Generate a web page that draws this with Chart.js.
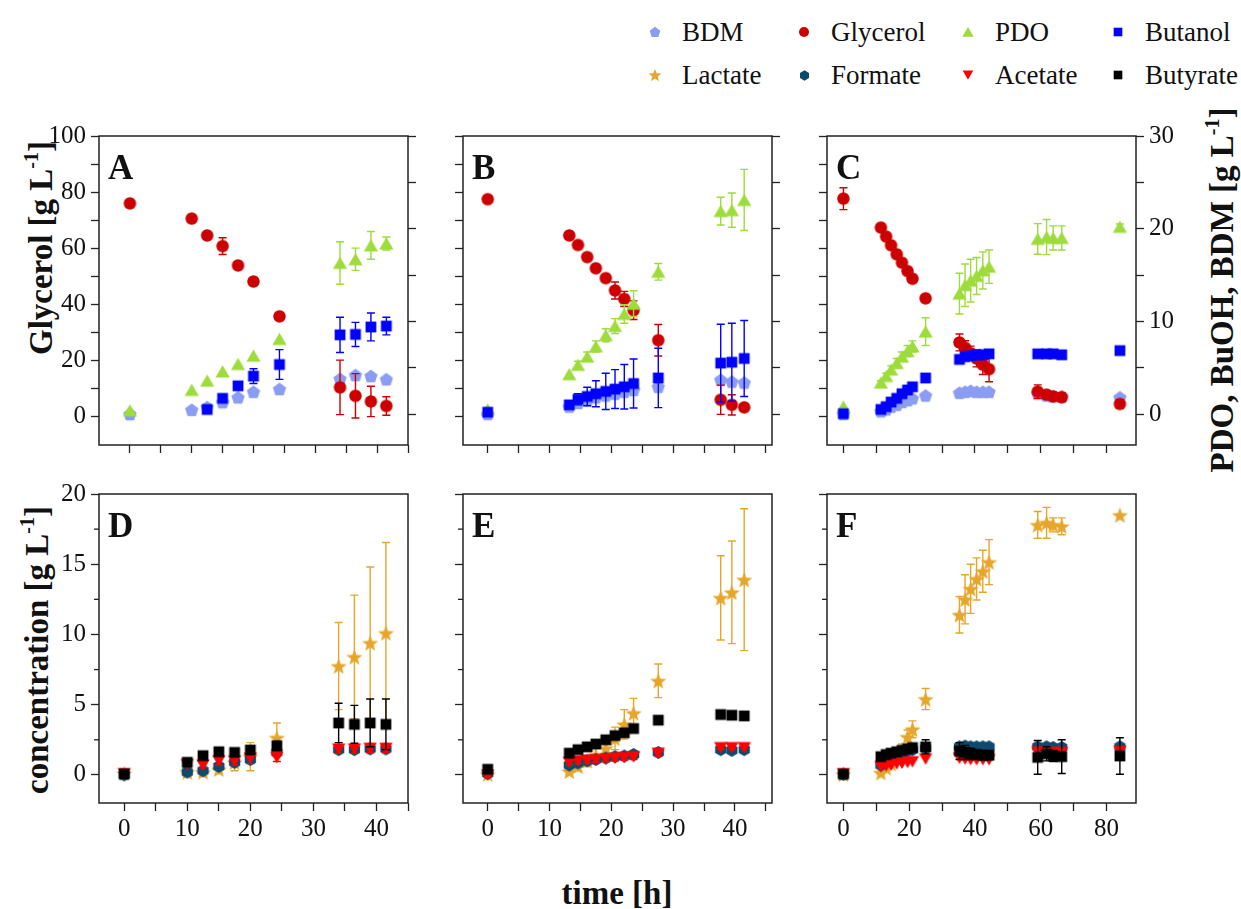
<!DOCTYPE html>
<html>
<head>
<meta charset="utf-8">
<script src="https://cdn.jsdelivr.net/npm/chart.js@4.4.1/dist/chart.umd.min.js"></script>
<style>
    body { margin: 0; width: 1241px; height: 909px; position: relative; overflow: hidden; background: #fff;
           font-family: "Liberation Serif", "Times New Roman", serif; color: #111; }
    canvas.panel { position: absolute; }
    .letter { position: absolute; font-weight: bold; font-size: 35px; line-height: 1; }
    .title { position: absolute; font-weight: bold; font-size: 33px; white-space: nowrap; line-height: 1; }
    .title sup { font-size: 20px; position: relative; top: -2px; }
    .rot { transform: translate(-50%, -50%) rotate(-90deg); }
    .legend-item { position: absolute; height: 30px; line-height: 30px; font-size: 27px; white-space: nowrap; }
    .legend-item canvas { position: absolute; }
</style>
</head>
<body>

<div class="title rot" style="left:40px; top:248px;">Glycerol [g L<sup>-1</sup>]</div>
<div class="title rot" style="left:36px; top:650px;">concentration [g L<sup>-1</sup>]</div>
<div class="title rot" style="left:1221px; top:290px;">PDO, BuOH, BDM [g L<sup>-1</sup>]</div>
<div class="title" style="left:617px; top:893px; transform: translate(-50%, -50%);">time [h]</div>

<div id="legend"></div>

<script>
// sampling times [h]
const timeA = [0, 10, 12.5, 15, 17.5, 20, 24.2, 34, 36.5, 39, 41.5];
const timeB = [0, 13.2, 14.6, 16.1, 17.5, 19.1, 20.6, 22.1, 23.6, 27.6, 37.7, 39.5, 41.5];
const timeC = [0, 11.4, 13.0, 14.5, 16.2, 17.8, 19.5, 21.0, 25.0, 35.3, 37.0, 38.7, 40.5, 42.4, 44.3, 59.1, 61.8, 63.8, 66.4, 84.1];

// panel A
const glycerolA = [76, 70.6, 64.6, 60.8, 53.9, 48.2, 35.8, 10.5, 7.5, 5.5, 3.9];
const glycerolAErr = [0, 0, 0, 3, 0, 0, 0, 9.7, 7.9, 5.4, 3.3];
const pdoA = [0.4, 2.6, 3.6, 4.6, 5.4, 6.3, 8.1, 16.3, 16.7, 18.2, 18.4];
const pdoAErr = [0, 0, 0, 0, 0, 0, 0, 2.3, 1.2, 1.5, 0.7];
const butanolA = [null, null, 0.5, 1.7, 3.05, 4.1, 5.35, 8.55, 8.6, 9.4, 9.5];
const butanolAErr = [0, 0, 0.2, 0.3, 0.3, 0.8, 1.6, 1.9, 1.3, 1.5, 0.95];
const bdmA = [0, 0.46, 0.74, 1.28, 1.8, 2.4, 2.7, 3.8, 4.2, 4.1, 3.75];

// panel B
const glycerolB = [77.5, 64.6, 61.2, 56.9, 52.9, 49.4, 45.0, 42.0, 38.0, 27.3, 6.1, 4.3, 3.4];
const glycerolBErr = [0, 0, 0, 0, 0, 0, 3, 2.7, 3.3, 5.6, 5.2, 3.6, 0];
const pdoB = [0.5, 4.3, 5.3, 6.2, 7.3, 8.5, 9.5, 10.8, 11.9, 15.35, 21.9, 22.0, 23.1];
const pdoBErr = [0, 0, 0.4, 0.5, 0.6, 0.7, 0.8, 1.0, 1.4, 0.9, 1.5, 1.85, 3.3];
const butanolB = [0.2, 1.0, 1.6, 1.9, 2.2, 2.45, 2.7, 2.95, 3.3, 3.9, 5.5, 5.6, 6.0];
const butanolBErr = [0.2, 0.3, 0.6, 1.0, 1.4, 1.95, 2.1, 2.4, 2.65, 3.2, 4.2, 4.2, 4.1];
const bdmB = [0, 0.8, 1.2, 1.5, 1.8, 2.0, 2.2, 2.4, 2.6, 2.95, 3.7, 3.5, 3.4];

// panel C
const glycerolC = [77.7, 67.4, 64.2, 61.1, 57.9, 54.9, 51.9, 49.2, 42.2, 26.5, 24.6, 22.7, 20.8, 18.6, 17.0, 9.0, 7.9, 7.3, 7.0, 4.6];
const glycerolCErr = [3.9, 0, 0, 0, 0, 0, 0, 0, 0, 3, 2.5, 2.5, 3, 3.5, 4.5, 2.4, 1.5, 1.5, 1.5, 1.5];
const pdoC = [0.8, 3.4, 4.1, 4.8, 5.5, 6.2, 6.8, 7.3, 8.9, 13.0, 13.9, 14.4, 14.9, 15.5, 15.9, 18.9, 19.1, 19.0, 19.0, 20.2];
const pdoCErr = [0, 0.2, 0.3, 0.4, 0.5, 0.5, 0.6, 0.6, 1.5, 2.2, 2.3, 2.3, 2.0, 2.0, 1.8, 1.65, 1.9, 1.3, 1.3, 0.3];
const butanolC = [0.05, 0.5, 0.8, 1.3, 1.7, 2.2, 2.6, 2.95, 3.9, 5.9, 6.2, 6.3, 6.4, 6.4, 6.5, 6.5, 6.5, 6.5, 6.4, 6.85];
const butanolCErr = [0, 0, 0, 0, 0, 0, 0, 0, 0, 0.3, 0.3, 0.3, 0.3, 0.3, 0.3, 0.2, 0.2, 0.2, 0.2, 0];
const bdmC = [0, 0.3, 0.5, 0.8, 1.0, 1.3, 1.5, 1.7, 2.0, 2.3, 2.4, 2.5, 2.4, 2.4, 2.4, 2.2, 2.0, 1.9, 1.9, 1.8];

// panel D
const lactateD = [0.1, 0.2, 0.2, 0.4, 0.9, 1.3, 2.65, 7.75, 8.4, 9.4, 10.1];
const lactateDErr = [0.2, 0.2, 0.3, 0.3, 0.6, 1.0, 1.05, 3.1, 4.4, 5.4, 6.45];
const formateD = [0, 0.2, 0.3, 0.6, 0.9, 1.1, 1.6, 1.8, 1.8, 1.85, 1.85];
const acetateD = [0.1, 0.75, 0.7, 1.0, 1.0, 1.2, 1.25, 1.85, 1.85, 1.9, 1.9];
const acetateDErr = [0.1, 0.2, 0.2, 0.3, 0.3, 0.4, 0.3, 0.3, 0.3, 0.3, 0.3];
const butyrateD = [0.07, 0.9, 1.37, 1.65, 1.6, 1.77, 2.08, 3.7, 3.6, 3.7, 3.6];
const butyrateDErr = [0, 0, 0, 0, 0, 0.2, 0.3, 1.4, 1.35, 1.7, 1.8];

// panel E
const lactateE = [0.05, 0.25, 0.6, 1.0, 1.4, 1.9, 2.6, 3.6, 4.4, 6.7, 12.6, 13.0, 13.9];
const lactateEErr = [0, 0.2, 0.3, 0.4, 0.5, 0.6, 0.8, 1.05, 1.05, 1.2, 3.0, 3.65, 5.05];
const formateE = [0.1, 0.7, 0.85, 1.0, 1.1, 1.2, 1.3, 1.35, 1.45, 1.6, 1.8, 1.75, 1.8];
const acetateE = [0, 0.9, 1.0, 1.05, 1.1, 1.15, 1.2, 1.25, 1.3, 1.55, 1.95, 1.95, 1.95];
const acetateEErr = [0.1, 0.2, 0.2, 0.2, 0.2, 0.2, 0.2, 0.2, 0.2, 0.2, 0.1, 0.1, 0.1];
const butyrateE = [0.4, 1.55, 1.8, 2.0, 2.2, 2.5, 2.8, 3.0, 3.3, 3.9, 4.3, 4.25, 4.2];

// panel F
const lactateF = [0.05, 0.15, 0.5, 0.8, 1.2, 1.8, 2.7, 3.25, 5.4, 11.4, 12.5, 13.25, 13.95, 14.5, 15.15, 17.8, 17.95, 17.8, 17.7, 18.5];
const lactateFErr = [0, 0.1, 0.2, 0.3, 0.3, 0.4, 0.5, 0.6, 0.75, 1.3, 1.75, 1.75, 1.5, 1.5, 1.6, 0.95, 1.1, 0.5, 0.6, 0];
const formateF = [0.05, 0.7, 1.0, 1.2, 1.4, 1.6, 1.7, 1.8, 1.9, 2.0, 2.05, 2.0, 2.0, 2.0, 2.0, 2.0, 2.0, 1.95, 1.95, 2.0];
const acetateF = [0.1, 0.6, 0.65, 0.7, 0.8, 0.85, 0.9, 0.95, 1.15, 1.2, 1.15, 1.1, 1.1, 1.1, 1.1, 1.65, 1.6, 1.6, 1.6, 1.7];
const butyrateF = [0.05, 1.3, 1.45, 1.55, 1.65, 1.75, 1.85, 1.95, 2.0, 1.7, 1.6, 1.5, 1.45, 1.4, 1.4, 1.25, 1.5, 1.35, 1.3, 1.35];
const butyrateFErr = [0, 0.2, 0.2, 0.2, 0.2, 0.2, 0.2, 0.2, 0.5, 0.6, 0.5, 0.4, 0.3, 0.3, 0.3, 1.2, 0.5, 0.4, 1.2, 1.3];

// axis ticks
const xTicksShort = [0, 5, 10, 15, 20, 25, 30, 35, 40, 45];
const xLabelsShort = [0, 10, 20, 30, 40];
const xTicksLong = [0, 10, 20, 30, 40, 50, 60, 70, 80];
const xLabelsLong = [0, 20, 40, 60, 80];
const glyTicks = [0, 10, 20, 30, 40, 50, 60, 70, 80, 90, 100];
const glyLabels = [0, 20, 40, 60, 80, 100];
const rightTicks = [0, 5, 10, 15, 20, 25, 30];
const rightLabels = [0, 10, 20, 30];
const concTicks = [0, 5, 10, 15, 20];
const concMinor = [2.5, 7.5, 12.5, 17.5];

const SERIES = {
    bdm:      { label: 'BDM',      shape: 'pentagon', color: '#8b9cf3', size: 14 },
    glycerol: { label: 'Glycerol', shape: 'circle',   color: '#cc0000', size: 12.5 },
    pdo:      { label: 'PDO',      shape: 'triangle', color: '#9ddc3b', size: 15 },
    butanol:  { label: 'Butanol',  shape: 'square',   color: '#0000ff', size: 12 },
    lactate:  { label: 'Lactate',  shape: 'star',     color: '#e6a62c', size: 17 },
    formate:  { label: 'Formate',  shape: 'hexagon',  color: '#0d4a6e', size: 13 },
    acetate:  { label: 'Acetate',  shape: 'down',     color: '#ff0000', size: 14 },
    butyrate: { label: 'Butyrate', shape: 'square',   color: '#000000', size: 12 }
};

function makeMarker(shape, color, size) {
    const s = Math.ceil(size) + 2;
    const c = document.createElement('canvas');
    c.width = s;
    c.height = s;
    const g = c.getContext('2d');
    const cx = s / 2, cy = s / 2, r = size / 2;
    g.fillStyle = color;
    g.beginPath();
    const poly = (n, rot, rad, dy) => {
        for (let i = 0; i < n; i++) {
            const a = rot + i * 2 * Math.PI / n;
            const px = cx + rad * Math.cos(a), py = cy + dy + rad * Math.sin(a);
            if (i === 0) g.moveTo(px, py); else g.lineTo(px, py);
        }
        g.closePath();
    };
    if (shape === 'circle') {
        g.arc(cx, cy, r, 0, Math.PI * 2);
    } else if (shape === 'square') {
        g.rect(cx - r * 0.9, cy - r * 0.9, r * 1.8, r * 1.8);
    } else if (shape === 'triangle') {
        poly(3, -Math.PI / 2, r * 1.1, r * 0.25);
    } else if (shape === 'down') {
        poly(3, Math.PI / 2, r * 1.1, -r * 0.25);
    } else if (shape === 'pentagon') {
        poly(5, -Math.PI / 2, r, r * 0.08);
    } else if (shape === 'hexagon') {
        poly(6, -Math.PI / 2, r, 0);
    } else if (shape === 'star') {
        for (let i = 0; i < 10; i++) {
            const a = -Math.PI / 2 + i * Math.PI / 5;
            const rad = i % 2 === 0 ? r : r * 0.42;
            const px = cx + rad * Math.cos(a), py = cy + r * 0.1 + rad * Math.sin(a);
            if (i === 0) g.moveTo(px, py); else g.lineTo(px, py);
        }
        g.closePath();
    }
    g.fill();
    return c;
}

function points(times, vals, errs) {
    const out = [];
    times.forEach((t, i) => {
        if (vals[i] === null || vals[i] === undefined) return;
        out.push({ x: t, y: vals[i], e: errs ? errs[i] : 0 });
    });
    return out;
}

const errorBars = {
    id: 'errorBars',
    afterDatasetDraw(chart, args) {
        const ds = chart.data.datasets[args.index];
        const yScale = chart.scales[args.meta.yAxisID];
        const ctx = chart.ctx;
        ctx.save();
        ctx.strokeStyle = ds.errColor;
        ctx.lineWidth = 1.4;
        args.meta.data.forEach((pt, i) => {
            const d = ds.data[i];
            if (!d.e) return;
            const yTop = yScale.getPixelForValue(d.y + d.e);
            const yBot = yScale.getPixelForValue(d.y - d.e);
            ctx.beginPath();
            ctx.moveTo(pt.x, yTop); ctx.lineTo(pt.x, yBot);
            ctx.moveTo(pt.x - 4, yTop); ctx.lineTo(pt.x + 4, yTop);
            ctx.moveTo(pt.x - 4, yBot); ctx.lineTo(pt.x + 4, yBot);
            ctx.stroke();
        });
        ctx.restore();
    }
};

const frame = {
    id: 'frame',
    afterDraw(chart) {
        const { ctx, chartArea: a } = chart;
        ctx.save();
        ctx.strokeStyle = '#222';
        ctx.lineWidth = 1.5;
        ctx.strokeRect(a.left, a.top, a.right - a.left, a.bottom - a.top);
        const minor = chart.options.plugins.frame.minor || [];
        ctx.lineWidth = 1.3;
        minor.forEach(v => {
            const p = chart.scales.y.getPixelForValue(v);
            ctx.beginPath();
            ctx.moveTo(a.left, p);
            ctx.lineTo(a.left - 5, p);
            ctx.stroke();
        });
        ctx.restore();
    }
};

Chart.defaults.font.family = '"Liberation Serif", "Times New Roman", serif';
Chart.defaults.font.size = 25;
Chart.defaults.color = '#111';

const PAD = 70;
const SIDE = 309;

function axis(min, max, position, ticks, labels, showLabels, fitSize) {
    const vertical = position === 'left' || position === 'right';
    return {
        type: 'linear',
        position: position,
        min: min,
        max: max,
        border: { display: false },
        grid: { drawOnChartArea: false, drawTicks: true, tickLength: 8, tickWidth: 1.3, tickColor: '#222' },
        ticks: {
            display: showLabels,
            font: { family: '"Liberation Serif", serif', size: 25 },
            color: '#111',
            padding: vertical ? 5 : 3,
            autoSkip: false,
            maxRotation: 0,
            callback: (v) => labels.includes(v) ? String(v) : ''
        },
        afterBuildTicks: (s) => { s.ticks = ticks.map(v => ({ value: v })); },
        afterFit: (s) => {
            if (vertical) s.width = fitSize; else s.height = fitSize;
            // keep the plot box exactly where the layout puts it
            s.paddingTop = 0; s.paddingBottom = 0; s.paddingLeft = 0; s.paddingRight = 0;
        }
    };
}

function makePanel(p) {
    const canvas = document.createElement('canvas');
    canvas.className = 'panel';
    canvas.width = SIDE + 2 * PAD;
    canvas.height = SIDE + 10 + 60;
    canvas.style.left = (p.left - PAD) + 'px';
    canvas.style.top = (p.top - 10) + 'px';
    document.body.appendChild(canvas);

    const letter = document.createElement('div');
    letter.className = 'letter';
    letter.textContent = p.letter;
    letter.style.left = (p.left + 9) + 'px';
    letter.style.top = (p.top + 14) + 'px';
    document.body.appendChild(letter);

    const scales = {
        x: axis(p.xMin, p.xMax, 'bottom', p.xTicks, p.xLabels, p.showX, 60),
        y: axis(p.yMin, p.yMax, 'left', p.yTicks, p.yLabels, p.showY, PAD)
    };
    if (p.y1) {
        scales.y1 = axis(-10 / 3, 30, 'right', rightTicks, rightLabels, p.showY1, PAD);
    }

    const datasets = p.sets.map(([key, times, vals, errs, yAxis], i) => {
        const s = SERIES[key];
        return {
            label: s.label,
            data: points(times, vals, errs),
            yAxisID: yAxis,
            pointStyle: makeMarker(s.shape, s.color, s.size),
            pointRadius: s.size / 2,
            errColor: s.color,
            showLine: false,
            order: p.sets.length - i
        };
    });

    new Chart(canvas, {
        type: 'scatter',
        data: { datasets: datasets },
        options: {
            responsive: false,
            animation: false,
            events: [],
            layout: { padding: { top: 10, right: p.y1 ? 0 : PAD, left: 0, bottom: 0 } },
            plugins: {
                legend: { display: false },
                tooltip: { enabled: false },
                frame: { minor: p.yMinor || [] }
            },
            scales: scales
        },
        plugins: [errorBars, frame]
    });
}

function drawAll() {
    makePanel({
        letter: 'A', left: 99, top: 136,
        xMin: -5, xMax: 45, xTicks: xTicksShort, xLabels: xLabelsShort, showX: false,
        yMin: -10, yMax: 100, yTicks: glyTicks, yLabels: glyLabels, showY: true,
        y1: true, showY1: false,
        sets: [
            ['bdm', timeA, bdmA, null, 'y1'],
            ['glycerol', timeA, glycerolA, glycerolAErr, 'y'],
            ['pdo', timeA, pdoA, pdoAErr, 'y1'],
            ['butanol', timeA, butanolA, butanolAErr, 'y1']
        ]
    });

    makePanel({
        letter: 'B', left: 463, top: 136,
        xMin: -4, xMax: 46, xTicks: xTicksShort, xLabels: xLabelsShort, showX: false,
        yMin: -10, yMax: 100, yTicks: glyTicks, yLabels: glyLabels, showY: false,
        y1: true, showY1: false,
        sets: [
            ['bdm', timeB, bdmB, null, 'y1'],
            ['glycerol', timeB, glycerolB, glycerolBErr, 'y'],
            ['pdo', timeB, pdoB, pdoBErr, 'y1'],
            ['butanol', timeB, butanolB, butanolBErr, 'y1']
        ]
    });

    makePanel({
        letter: 'C', left: 827, top: 136,
        xMin: -5, xMax: 89, xTicks: xTicksLong, xLabels: xLabelsLong, showX: false,
        yMin: -10, yMax: 100, yTicks: glyTicks, yLabels: glyLabels, showY: false,
        y1: true, showY1: true,
        sets: [
            ['bdm', timeC, bdmC, null, 'y1'],
            ['glycerol', timeC, glycerolC, glycerolCErr, 'y'],
            ['pdo', timeC, pdoC, pdoCErr, 'y1'],
            ['butanol', timeC, butanolC, butanolCErr, 'y1']
        ]
    });

    makePanel({
        letter: 'D', left: 99, top: 494,
        xMin: -4, xMax: 45, xTicks: xTicksShort, xLabels: xLabelsShort, showX: true,
        yMin: -2, yMax: 20, yTicks: concTicks, yLabels: concTicks, showY: true, yMinor: concMinor,
        y1: false,
        sets: [
            ['lactate', timeA, lactateD, lactateDErr, 'y'],
            ['formate', timeA, formateD, null, 'y'],
            ['acetate', timeA, acetateD, acetateDErr, 'y'],
            ['butyrate', timeA, butyrateD, butyrateDErr, 'y']
        ]
    });

    makePanel({
        letter: 'E', left: 463, top: 494,
        xMin: -4, xMax: 46, xTicks: xTicksShort, xLabels: xLabelsShort, showX: true,
        yMin: -2, yMax: 20, yTicks: concTicks, yLabels: concTicks, showY: false, yMinor: concMinor,
        y1: false,
        sets: [
            ['lactate', timeB, lactateE, lactateEErr, 'y'],
            ['formate', timeB, formateE, null, 'y'],
            ['acetate', timeB, acetateE, acetateEErr, 'y'],
            ['butyrate', timeB, butyrateE, null, 'y']
        ]
    });

    makePanel({
        letter: 'F', left: 827, top: 494,
        xMin: -5, xMax: 89, xTicks: xTicksLong, xLabels: xLabelsLong, showX: true,
        yMin: -2, yMax: 20, yTicks: concTicks, yLabels: concTicks, showY: false, yMinor: concMinor,
        y1: false,
        sets: [
            ['lactate', timeC, lactateF, lactateFErr, 'y'],
            ['formate', timeC, formateF, null, 'y'],
            ['acetate', timeC, acetateF, null, 'y'],
            ['butyrate', timeC, butyrateF, butyrateFErr, 'y']
        ]
    });
}

// make sure the serif face is ready before the canvases draw text
if (document.fonts && document.fonts.load) {
    document.fonts.load('25px "Liberation Serif"').then(drawAll, drawAll);
} else {
    drawAll();
}

// legend, two rows of four
const legendRows = [
    ['bdm', 'glycerol', 'pdo', 'butanol'],
    ['lactate', 'formate', 'acetate', 'butyrate']
];
const legendX = [655, 804, 968, 1118];
const legendY = [32, 75];
const legendEl = document.getElementById('legend');
legendRows.forEach((row, r) => {
    row.forEach((key, c) => {
        const s = SERIES[key];
        const item = document.createElement('div');
        item.className = 'legend-item';
        item.style.left = (legendX[c] - 10) + 'px';
        item.style.top = (legendY[r] - 15) + 'px';
        const mk = makeMarker(s.shape, s.color, s.size * 0.8);
        mk.style.left = (10 - mk.width / 2) + 'px';
        mk.style.top = (15 - mk.height / 2) + 'px';
        item.appendChild(mk);
        const label = document.createElement('span');
        label.textContent = s.label;
        label.style.marginLeft = '37px';
        item.appendChild(label);
        legendEl.appendChild(item);
    });
});
</script>
</body>
</html>
